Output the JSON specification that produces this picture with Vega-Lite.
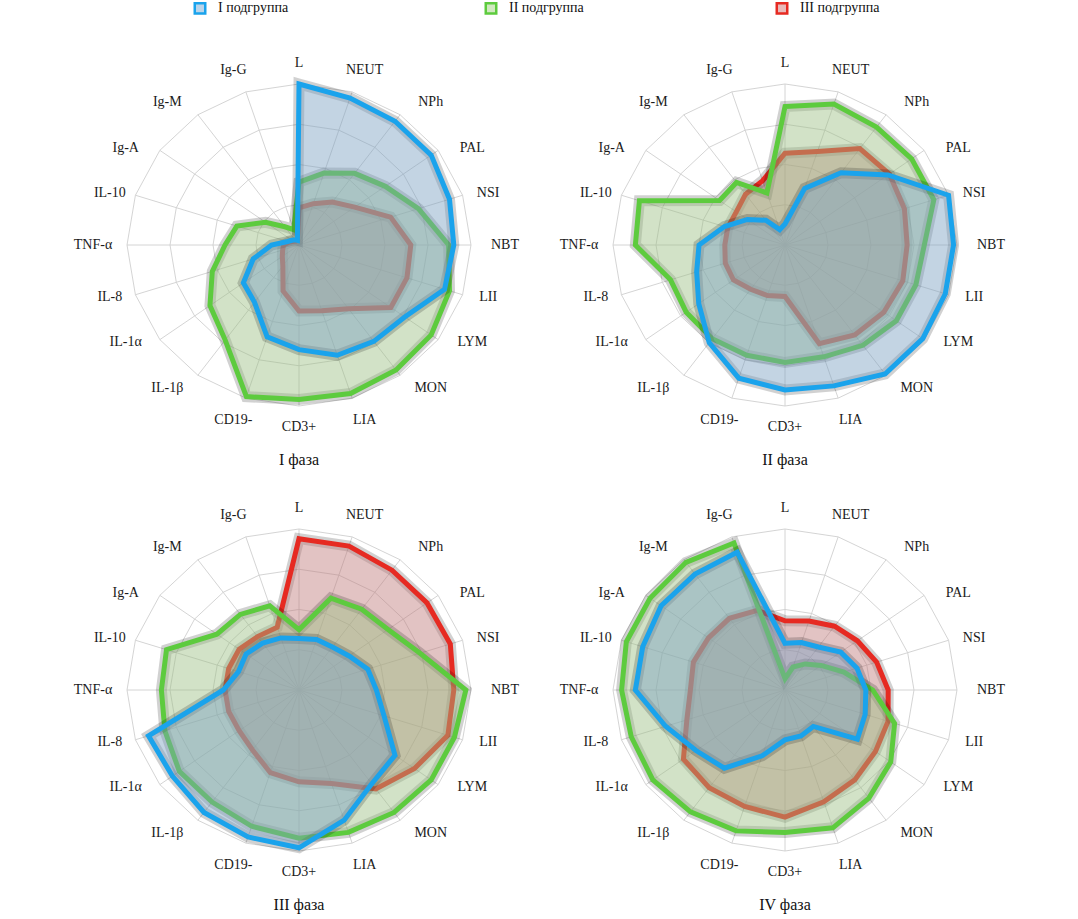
{
  "$schema": "https://vega.github.io/schema/vega-lite/v6.json",
  "padding": {"left": 56, "top": 1, "right": 5, "bottom": 5},
  "config": {"view": {"stroke": null}, "font": "'Liberation Serif', 'Times New Roman', 'DejaVu Serif', serif"},
  "datasets": {
    "axes": [
      {"a": "L", "i": 0, "r1": 0.25, "r2": 0.5, "r3": 0.75, "r4": 1},
      {"a": "NEUT", "i": 1, "r1": 0.25, "r2": 0.5, "r3": 0.75, "r4": 1},
      {"a": "NPh", "i": 2, "r1": 0.25, "r2": 0.5, "r3": 0.75, "r4": 1},
      {"a": "PAL", "i": 3, "r1": 0.25, "r2": 0.5, "r3": 0.75, "r4": 1},
      {"a": "NSI", "i": 4, "r1": 0.25, "r2": 0.5, "r3": 0.75, "r4": 1},
      {"a": "NBT", "i": 5, "r1": 0.25, "r2": 0.5, "r3": 0.75, "r4": 1},
      {"a": "LII", "i": 6, "r1": 0.25, "r2": 0.5, "r3": 0.75, "r4": 1},
      {"a": "LYM", "i": 7, "r1": 0.25, "r2": 0.5, "r3": 0.75, "r4": 1},
      {"a": "MON", "i": 8, "r1": 0.25, "r2": 0.5, "r3": 0.75, "r4": 1},
      {"a": "LIA", "i": 9, "r1": 0.25, "r2": 0.5, "r3": 0.75, "r4": 1},
      {"a": "CD3+", "i": 10, "r1": 0.25, "r2": 0.5, "r3": 0.75, "r4": 1},
      {"a": "CD19-", "i": 11, "r1": 0.25, "r2": 0.5, "r3": 0.75, "r4": 1},
      {"a": "IL-1β", "i": 12, "r1": 0.25, "r2": 0.5, "r3": 0.75, "r4": 1},
      {"a": "IL-1α", "i": 13, "r1": 0.25, "r2": 0.5, "r3": 0.75, "r4": 1},
      {"a": "IL-8", "i": 14, "r1": 0.25, "r2": 0.5, "r3": 0.75, "r4": 1},
      {"a": "TNF-α", "i": 15, "r1": 0.25, "r2": 0.5, "r3": 0.75, "r4": 1},
      {"a": "IL-10", "i": 16, "r1": 0.25, "r2": 0.5, "r3": 0.75, "r4": 1},
      {"a": "Ig-A", "i": 17, "r1": 0.25, "r2": 0.5, "r3": 0.75, "r4": 1},
      {"a": "Ig-M", "i": 18, "r1": 0.25, "r2": 0.5, "r3": 0.75, "r4": 1},
      {"a": "Ig-G", "i": 19, "r1": 0.25, "r2": 0.5, "r3": 0.75, "r4": 1}
    ]
  },
  "data": {"values": [
    {"p":"I фаза","s":"I подгруппа","a":"L","v":1.0},
    {"p":"I фаза","s":"I подгруппа","a":"NEUT","v":0.96},
    {"p":"I фаза","s":"I подгруппа","a":"NPh","v":0.95},
    {"p":"I фаза","s":"I подгруппа","a":"PAL","v":0.95},
    {"p":"I фаза","s":"I подгруппа","a":"NSI","v":0.92},
    {"p":"I фаза","s":"I подгруппа","a":"NBT","v":0.90},
    {"p":"I фаза","s":"I подгруппа","a":"LII","v":0.89},
    {"p":"I фаза","s":"I подгруппа","a":"LYM","v":0.76},
    {"p":"I фаза","s":"I подгруппа","a":"MON","v":0.74},
    {"p":"I фаза","s":"I подгруппа","a":"LIA","v":0.72},
    {"p":"I фаза","s":"I подгруппа","a":"CD3+","v":0.65},
    {"p":"I фаза","s":"I подгруппа","a":"CD19-","v":0.60},
    {"p":"I фаза","s":"I подгруппа","a":"IL-1β","v":0.44},
    {"p":"I фаза","s":"I подгруппа","a":"IL-1α","v":0.40},
    {"p":"I фаза","s":"I подгруппа","a":"IL-8","v":0.28},
    {"p":"I фаза","s":"I подгруппа","a":"TNF-α","v":0.16},
    {"p":"I фаза","s":"I подгруппа","a":"IL-10","v":0.07},
    {"p":"I фаза","s":"I подгруппа","a":"Ig-A","v":0.05},
    {"p":"I фаза","s":"I подгруппа","a":"Ig-M","v":0.04},
    {"p":"I фаза","s":"I подгруппа","a":"Ig-G","v":0.03},
    {"p":"I фаза","s":"II подгруппа","a":"L","v":0.39},
    {"p":"I фаза","s":"II подгруппа","a":"NEUT","v":0.47},
    {"p":"I фаза","s":"II подгруппа","a":"NPh","v":0.55},
    {"p":"I фаза","s":"II подгруппа","a":"PAL","v":0.62},
    {"p":"I фаза","s":"II подгруппа","a":"NSI","v":0.73},
    {"p":"I фаза","s":"II подгруппа","a":"NBT","v":0.87},
    {"p":"I фаза","s":"II подгруппа","a":"LII","v":0.92},
    {"p":"I фаза","s":"II подгруппа","a":"LYM","v":0.95},
    {"p":"I фаза","s":"II подгруппа","a":"MON","v":0.96},
    {"p":"I фаза","s":"II подгруппа","a":"LIA","v":0.97},
    {"p":"I фаза","s":"II подгруппа","a":"CD3+","v":0.96},
    {"p":"I фаза","s":"II подгруппа","a":"CD19-","v":0.99},
    {"p":"I фаза","s":"II подгруппа","a":"IL-1β","v":0.73},
    {"p":"I фаза","s":"II подгруппа","a":"IL-1α","v":0.64},
    {"p":"I фаза","s":"II подгруппа","a":"IL-8","v":0.53},
    {"p":"I фаза","s":"II подгруппа","a":"TNF-α","v":0.43},
    {"p":"I фаза","s":"II подгруппа","a":"IL-10","v":0.38},
    {"p":"I фаза","s":"II подгруппа","a":"Ig-A","v":0.24},
    {"p":"I фаза","s":"II подгруппа","a":"Ig-M","v":0.14},
    {"p":"I фаза","s":"II подгруппа","a":"Ig-G","v":0.10},
    {"p":"I фаза","s":"III подгруппа","a":"L","v":0.23},
    {"p":"I фаза","s":"III подгруппа","a":"NEUT","v":0.27},
    {"p":"I фаза","s":"III подгруппа","a":"NPh","v":0.33},
    {"p":"I фаза","s":"III подгруппа","a":"PAL","v":0.40},
    {"p":"I фаза","s":"III подгруппа","a":"NSI","v":0.56},
    {"p":"I фаза","s":"III подгруппа","a":"NBT","v":0.65},
    {"p":"I фаза","s":"III подгруппа","a":"LII","v":0.66},
    {"p":"I фаза","s":"III подгруппа","a":"LYM","v":0.66},
    {"p":"I фаза","s":"III подгруппа","a":"MON","v":0.49},
    {"p":"I фаза","s":"III подгруппа","a":"LIA","v":0.43},
    {"p":"I фаза","s":"III подгруппа","a":"CD3+","v":0.41},
    {"p":"I фаза","s":"III подгруппа","a":"CD19-","v":0.30},
    {"p":"I фаза","s":"III подгруппа","a":"IL-1β","v":0.16},
    {"p":"I фаза","s":"III подгруппа","a":"IL-1α","v":0.12},
    {"p":"I фаза","s":"III подгруппа","a":"IL-8","v":0.10},
    {"p":"I фаза","s":"III подгруппа","a":"TNF-α","v":0.09},
    {"p":"I фаза","s":"III подгруппа","a":"IL-10","v":0.06},
    {"p":"I фаза","s":"III подгруппа","a":"Ig-A","v":0.04},
    {"p":"I фаза","s":"III подгруппа","a":"Ig-M","v":0.03},
    {"p":"I фаза","s":"III подгруппа","a":"Ig-G","v":0.03},
    {"p":"II фаза","s":"I подгруппа","a":"L","v":0.13},
    {"p":"II фаза","s":"I подгруппа","a":"NEUT","v":0.37},
    {"p":"II фаза","s":"I подгруппа","a":"NPh","v":0.555},
    {"p":"II фаза","s":"I подгруппа","a":"PAL","v":0.74},
    {"p":"II фаза","s":"I подгруппа","a":"NSI","v":1.0},
    {"p":"II фаза","s":"I подгруппа","a":"NBT","v":0.98},
    {"p":"II фаза","s":"I подгруппа","a":"LII","v":0.98},
    {"p":"II фаза","s":"I подгруппа","a":"LYM","v":0.99},
    {"p":"II фаза","s":"I подгруппа","a":"MON","v":0.99},
    {"p":"II фаза","s":"I подгруппа","a":"LIA","v":0.92},
    {"p":"II фаза","s":"I подгруппа","a":"CD3+","v":0.90},
    {"p":"II фаза","s":"I подгруппа","a":"CD19-","v":0.87},
    {"p":"II фаза","s":"I подгруппа","a":"IL-1β","v":0.75},
    {"p":"II фаза","s":"I подгруппа","a":"IL-1α","v":0.62},
    {"p":"II фаза","s":"I подгруппа","a":"IL-8","v":0.54},
    {"p":"II фаза","s":"I подгруппа","a":"TNF-α","v":0.50},
    {"p":"II фаза","s":"I подгруппа","a":"IL-10","v":0.37},
    {"p":"II фаза","s":"I подгруппа","a":"Ig-A","v":0.27},
    {"p":"II фаза","s":"I подгруппа","a":"Ig-M","v":0.19},
    {"p":"II фаза","s":"I подгруппа","a":"Ig-G","v":0.10},
    {"p":"II фаза","s":"II подгруппа","a":"L","v":0.86},
    {"p":"II фаза","s":"II подгруппа","a":"NEUT","v":0.92},
    {"p":"II фаза","s":"II подгруппа","a":"NPh","v":0.905},
    {"p":"II фаза","s":"II подгруппа","a":"PAL","v":0.91},
    {"p":"II фаза","s":"II подгруппа","a":"NSI","v":0.91},
    {"p":"II фаза","s":"II подгруппа","a":"NBT","v":0.81},
    {"p":"II фаза","s":"II подгруппа","a":"LII","v":0.80},
    {"p":"II фаза","s":"II подгруппа","a":"LYM","v":0.80},
    {"p":"II фаза","s":"II подгруппа","a":"MON","v":0.77},
    {"p":"II фаза","s":"II подгруппа","a":"LIA","v":0.73},
    {"p":"II фаза","s":"II подгруппа","a":"CD3+","v":0.73},
    {"p":"II фаза","s":"II подгруппа","a":"CD19-","v":0.72},
    {"p":"II фаза","s":"II подгруппа","a":"IL-1β","v":0.72},
    {"p":"II фаза","s":"II подгруппа","a":"IL-1α","v":0.71},
    {"p":"II фаза","s":"II подгруппа","a":"IL-8","v":0.70},
    {"p":"II фаза","s":"II подгруппа","a":"TNF-α","v":0.87},
    {"p":"II фаза","s":"II подгруппа","a":"IL-10","v":0.89},
    {"p":"II фаза","s":"II подгруппа","a":"Ig-A","v":0.47},
    {"p":"II фаза","s":"II подгруппа","a":"Ig-M","v":0.48},
    {"p":"II фаза","s":"II подгруппа","a":"Ig-G","v":0.34},
    {"p":"II фаза","s":"III подгруппа","a":"L","v":0.57},
    {"p":"II фаза","s":"III подгруппа","a":"NEUT","v":0.61},
    {"p":"II фаза","s":"III подгруппа","a":"NPh","v":0.74},
    {"p":"II фаза","s":"III подгруппа","a":"PAL","v":0.75},
    {"p":"II фаза","s":"III подгруппа","a":"NSI","v":0.73},
    {"p":"II фаза","s":"III подгруппа","a":"NBT","v":0.71},
    {"p":"II фаза","s":"III подгруппа","a":"LII","v":0.72},
    {"p":"II фаза","s":"III подгруппа","a":"LYM","v":0.71},
    {"p":"II фаза","s":"III подгруппа","a":"MON","v":0.69},
    {"p":"II фаза","s":"III подгруппа","a":"LIA","v":0.645},
    {"p":"II фаза","s":"III подгруппа","a":"CD3+","v":0.32},
    {"p":"II фаза","s":"III подгруппа","a":"CD19-","v":0.33},
    {"p":"II фаза","s":"III подгруппа","a":"IL-1β","v":0.34},
    {"p":"II фаза","s":"III подгруппа","a":"IL-1α","v":0.37},
    {"p":"II фаза","s":"III подгруппа","a":"IL-8","v":0.365},
    {"p":"II фаза","s":"III подгруппа","a":"TNF-α","v":0.35},
    {"p":"II фаза","s":"III подгруппа","a":"IL-10","v":0.35},
    {"p":"II фаза","s":"III подгруппа","a":"Ig-A","v":0.35},
    {"p":"II фаза","s":"III подгруппа","a":"Ig-M","v":0.39},
    {"p":"II фаза","s":"III подгруппа","a":"Ig-G","v":0.42},
    {"p":"III фаза","s":"I подгруппа","a":"L","v":0.32},
    {"p":"III фаза","s":"I подгруппа","a":"NEUT","v":0.33},
    {"p":"III фаза","s":"I подгруппа","a":"NPh","v":0.33},
    {"p":"III фаза","s":"I подгруппа","a":"PAL","v":0.36},
    {"p":"III фаза","s":"I подгруппа","a":"NSI","v":0.42},
    {"p":"III фаза","s":"I подгруппа","a":"NBT","v":0.45},
    {"p":"III фаза","s":"I подгруппа","a":"LII","v":0.52},
    {"p":"III фаза","s":"I подгруппа","a":"LYM","v":0.69},
    {"p":"III фаза","s":"I подгруппа","a":"MON","v":0.72},
    {"p":"III фаза","s":"I подгруппа","a":"LIA","v":0.85},
    {"p":"III фаза","s":"I подгруппа","a":"CD3+","v":0.98},
    {"p":"III фаза","s":"I подгруппа","a":"CD19-","v":0.96},
    {"p":"III фаза","s":"I подгруппа","a":"IL-1β","v":0.94},
    {"p":"III фаза","s":"I подгруппа","a":"IL-1α","v":0.91},
    {"p":"III фаза","s":"I подгруппа","a":"IL-8","v":0.92},
    {"p":"III фаза","s":"I подгруппа","a":"TNF-α","v":0.44},
    {"p":"III фаза","s":"I подгруппа","a":"IL-10","v":0.37},
    {"p":"III фаза","s":"I подгруппа","a":"Ig-A","v":0.38},
    {"p":"III фаза","s":"I подгруппа","a":"Ig-M","v":0.36},
    {"p":"III фаза","s":"I подгруппа","a":"Ig-G","v":0.34},
    {"p":"III фаза","s":"II подгруппа","a":"L","v":0.375},
    {"p":"III фаза","s":"II подгруппа","a":"NEUT","v":0.60},
    {"p":"III фаза","s":"II подгруппа","a":"NPh","v":0.62},
    {"p":"III фаза","s":"II подгруппа","a":"PAL","v":0.64},
    {"p":"III фаза","s":"II подгруппа","a":"NSI","v":0.74},
    {"p":"III фаза","s":"II подгруппа","a":"NBT","v":0.97},
    {"p":"III фаза","s":"II подгруппа","a":"LII","v":0.95},
    {"p":"III фаза","s":"II подгруппа","a":"LYM","v":0.95},
    {"p":"III фаза","s":"II подгруппа","a":"MON","v":0.94},
    {"p":"III фаза","s":"II подгруппа","a":"LIA","v":0.93},
    {"p":"III фаза","s":"II подгруппа","a":"CD3+","v":0.92},
    {"p":"III фаза","s":"II подгруппа","a":"CD19-","v":0.89},
    {"p":"III фаза","s":"II подгруппа","a":"IL-1β","v":0.86},
    {"p":"III фаза","s":"II подгруппа","a":"IL-1α","v":0.86},
    {"p":"III фаза","s":"II подгруппа","a":"IL-8","v":0.82},
    {"p":"III фаза","s":"II подгруппа","a":"TNF-α","v":0.80},
    {"p":"III фаза","s":"II подгруппа","a":"IL-10","v":0.81},
    {"p":"III фаза","s":"II подгруппа","a":"Ig-A","v":0.59},
    {"p":"III фаза","s":"II подгруппа","a":"Ig-M","v":0.58},
    {"p":"III фаза","s":"II подгруппа","a":"Ig-G","v":0.55},
    {"p":"III фаза","s":"III подгруппа","a":"L","v":0.94},
    {"p":"III фаза","s":"III подгруппа","a":"NEUT","v":0.94},
    {"p":"III фаза","s":"III подгруппа","a":"NPh","v":0.92},
    {"p":"III фаза","s":"III подгруппа","a":"PAL","v":0.92},
    {"p":"III фаза","s":"III подгруппа","a":"NSI","v":0.925},
    {"p":"III фаза","s":"III подгруппа","a":"NBT","v":0.90},
    {"p":"III фаза","s":"III подгруппа","a":"LII","v":0.91},
    {"p":"III фаза","s":"III подгруппа","a":"LYM","v":0.83},
    {"p":"III фаза","s":"III подгруппа","a":"MON","v":0.76},
    {"p":"III фаза","s":"III подгруппа","a":"LIA","v":0.61},
    {"p":"III фаза","s":"III подгруппа","a":"CD3+","v":0.57},
    {"p":"III фаза","s":"III подгруппа","a":"CD19-","v":0.54},
    {"p":"III фаза","s":"III подгруппа","a":"IL-1β","v":0.46},
    {"p":"III фаза","s":"III подгруппа","a":"IL-1α","v":0.43},
    {"p":"III фаза","s":"III подгруппа","a":"IL-8","v":0.43},
    {"p":"III фаза","s":"III подгруппа","a":"TNF-α","v":0.43},
    {"p":"III фаза","s":"III подгруппа","a":"IL-10","v":0.43},
    {"p":"III фаза","s":"III подгруппа","a":"Ig-A","v":0.43},
    {"p":"III фаза","s":"III подгруппа","a":"Ig-M","v":0.41},
    {"p":"III фаза","s":"III подгруппа","a":"Ig-G","v":0.41},
    {"p":"IV фаза","s":"I подгруппа","a":"L","v":0.29},
    {"p":"IV фаза","s":"I подгруппа","a":"NEUT","v":0.31},
    {"p":"IV фаза","s":"I подгруппа","a":"NPh","v":0.33},
    {"p":"IV фаза","s":"I подгруппа","a":"PAL","v":0.40},
    {"p":"IV фаза","s":"I подгруппа","a":"NSI","v":0.44},
    {"p":"IV фаза","s":"I подгруппа","a":"NBT","v":0.47},
    {"p":"IV фаза","s":"I подгруппа","a":"LII","v":0.49},
    {"p":"IV фаза","s":"I подгруппа","a":"LYM","v":0.52},
    {"p":"IV фаза","s":"I подгруппа","a":"MON","v":0.28},
    {"p":"IV фаза","s":"I подгруппа","a":"LIA","v":0.30},
    {"p":"IV фаза","s":"I подгруппа","a":"CD3+","v":0.31},
    {"p":"IV фаза","s":"I подгруппа","a":"CD19-","v":0.43},
    {"p":"IV фаза","s":"I подгруппа","a":"IL-1β","v":0.60},
    {"p":"IV фаза","s":"I подгруппа","a":"IL-1α","v":0.64},
    {"p":"IV фаза","s":"I подгруппа","a":"IL-8","v":0.73},
    {"p":"IV фаза","s":"I подгруппа","a":"TNF-α","v":0.87},
    {"p":"IV фаза","s":"I подгруппа","a":"IL-10","v":0.87},
    {"p":"IV фаза","s":"I подгруппа","a":"Ig-A","v":0.89},
    {"p":"IV фаза","s":"I подгруппа","a":"Ig-M","v":0.89},
    {"p":"IV фаза","s":"I подгруппа","a":"Ig-G","v":0.90},
    {"p":"IV фаза","s":"II подгруппа","a":"L","v":0.07},
    {"p":"IV фаза","s":"II подгруппа","a":"NEUT","v":0.15},
    {"p":"IV фаза","s":"II подгруппа","a":"NPh","v":0.20},
    {"p":"IV фаза","s":"II подгруппа","a":"PAL","v":0.26},
    {"p":"IV фаза","s":"II подгруппа","a":"NSI","v":0.36},
    {"p":"IV фаза","s":"II подгруппа","a":"NBT","v":0.51},
    {"p":"IV фаза","s":"II подгруппа","a":"LII","v":0.67},
    {"p":"IV фаза","s":"II подгруппа","a":"LYM","v":0.76},
    {"p":"IV фаза","s":"II подгруппа","a":"MON","v":0.83},
    {"p":"IV фаза","s":"II подгруппа","a":"LIA","v":0.90},
    {"p":"IV фаза","s":"II подгруппа","a":"CD3+","v":0.885},
    {"p":"IV фаза","s":"II подгруппа","a":"CD19-","v":0.92},
    {"p":"IV фаза","s":"II подгруппа","a":"IL-1β","v":0.935},
    {"p":"IV фаза","s":"II подгруппа","a":"IL-1α","v":0.95},
    {"p":"IV фаза","s":"II подгруппа","a":"IL-8","v":0.94},
    {"p":"IV фаза","s":"II подгруппа","a":"TNF-α","v":0.95},
    {"p":"IV фаза","s":"II подгруппа","a":"IL-10","v":0.97},
    {"p":"IV фаза","s":"II подгруппа","a":"Ig-A","v":0.97},
    {"p":"IV фаза","s":"II подгруппа","a":"Ig-M","v":0.98},
    {"p":"IV фаза","s":"II подгруппа","a":"Ig-G","v":0.96},
    {"p":"IV фаза","s":"III подгруппа","a":"L","v":0.43},
    {"p":"IV фаза","s":"III подгруппа","a":"NEUT","v":0.45},
    {"p":"IV фаза","s":"III подгруппа","a":"NPh","v":0.49},
    {"p":"IV фаза","s":"III подгруппа","a":"PAL","v":0.52},
    {"p":"IV фаза","s":"III подгруппа","a":"NSI","v":0.56},
    {"p":"IV фаза","s":"III подгруппа","a":"NBT","v":0.60},
    {"p":"IV фаза","s":"III подгруппа","a":"LII","v":0.63},
    {"p":"IV фаза","s":"III подгруппа","a":"LYM","v":0.65},
    {"p":"IV фаза","s":"III подгруппа","a":"MON","v":0.69},
    {"p":"IV фаза","s":"III подгруппа","a":"LIA","v":0.73},
    {"p":"IV фаза","s":"III подгруппа","a":"CD3+","v":0.79},
    {"p":"IV фаза","s":"III подгруппа","a":"CD19-","v":0.76},
    {"p":"IV фаза","s":"III подгруппа","a":"IL-1β","v":0.75},
    {"p":"IV фаза","s":"III подгруппа","a":"IL-1α","v":0.73},
    {"p":"IV фаза","s":"III подгруппа","a":"IL-8","v":0.60},
    {"p":"IV фаза","s":"III подгруппа","a":"TNF-α","v":0.55},
    {"p":"IV фаза","s":"III подгруппа","a":"IL-10","v":0.56},
    {"p":"IV фаза","s":"III подгруппа","a":"Ig-A","v":0.55},
    {"p":"IV фаза","s":"III подгруппа","a":"Ig-M","v":0.55},
    {"p":"IV фаза","s":"III подгруппа","a":"Ig-G","v":0.52}
  ]},
  "transform": [
    {"lookup": "a", "from": {"data": {"name": "axes"}, "key": "a", "fields": ["i", "r1", "r2", "r3", "r4"]}},
    {"calculate": "datum.i*PI/10", "as": "t"},
    {"calculate": "datum.v*sin(datum.t)", "as": "x"},
    {"calculate": "datum.v*cos(datum.t)", "as": "y"},
    {"calculate": "sin(datum.t)", "as": "ux"},
    {"calculate": "cos(datum.t)", "as": "uy"},
    {"calculate": "datum.t+0.13*sin(2*datum.t)*abs(sin(2*datum.t))", "as": "phi"},
    {"calculate": "182+24*abs(sin(datum.t))-10*pow(sin(4*datum.t),2)*abs(sin(datum.t))", "as": "rho"},
    {"calculate": "datum.rho*sin(datum.phi)/172", "as": "lx"},
    {"calculate": "datum.rho*cos(datum.phi)/161", "as": "ly"}
  ],
  "facet": {
    "field": "p", "type": "nominal", "title": null,
    "sort": ["I фаза", "II фаза", "III фаза", "IV фаза"],
    "header": {"title": null, "labelOrient": "bottom", "labelFont": "'Liberation Serif', 'Times New Roman', serif", "labelFontSize": 16, "labelColor": "#111111", "labelPadding": 7}
  },
  "columns": 2,
  "spacing": {"row": 22, "column": 0},
  "spec": {
    "width": 486,
    "height": 400,
    "layer": [
      {
        "transform": [
          {"filter": "datum.s === 'I подгруппа'"},
          {"fold": ["r1", "r2", "r3", "r4"], "as": ["ring", "lev"]},
          {"calculate": "datum.lev*datum.ux", "as": "gx"},
          {"calculate": "datum.lev*datum.uy", "as": "gy"}
        ],
        "mark": {"type": "line", "interpolate": "linear-closed", "stroke": "#cfcfcf", "strokeWidth": 0.9},
        "encoding": {
          "x": {"field": "gx", "type": "quantitative", "scale": {"domain": [-1.4128, 1.4128], "nice": false, "zero": false}, "axis": null},
          "y": {"field": "gy", "type": "quantitative", "scale": {"domain": [-1.2422, 1.2422], "nice": false, "zero": false}, "axis": null},
          "detail": {"field": "ring", "type": "nominal"},
          "order": {"field": "i", "type": "quantitative"}
        }
      },
      {
        "transform": [{"filter": "datum.s === 'I подгруппа'"}],
        "mark": {"type": "rule", "stroke": "#cfcfcf", "strokeWidth": 0.9},
        "encoding": {
          "x": {"field": "ux", "type": "quantitative"},
          "y": {"field": "uy", "type": "quantitative"},
          "x2": {"datum": 0},
          "y2": {"datum": 0}
        }
      },
      {
        "transform": [{"filter": "datum.s === 'I подгруппа'"}],
        "mark": {"type": "text", "font": "'Liberation Serif', 'Times New Roman', serif", "fontSize": 14, "color": "#1a1a1a", "align": "center", "baseline": "middle"},
        "encoding": {
          "x": {"field": "lx", "type": "quantitative"},
          "y": {"field": "ly", "type": "quantitative"},
          "text": {"field": "a", "type": "nominal"}
        }
      },
      {
        "transform": [{"filter": "datum.s === 'III подгруппа'"}],
        "mark": {"type": "line", "interpolate": "linear-closed", "stroke": "#000000", "strokeOpacity": 0.18, "strokeWidth": 11, "fill": "#000000", "fillOpacity": 0.09},
        "encoding": {
          "x": {"field": "x", "type": "quantitative"},
          "y": {"field": "y", "type": "quantitative"},
          "order": {"field": "i", "type": "quantitative"}
        }
      },
      {
        "transform": [{"filter": "datum.s === 'III подгруппа'"}],
        "mark": {"type": "line", "interpolate": "linear-closed", "strokeWidth": 5, "strokeJoin": "miter", "fillOpacity": 0.4},
        "encoding": {
          "x": {"field": "x", "type": "quantitative"},
          "y": {"field": "y", "type": "quantitative"},
          "order": {"field": "i", "type": "quantitative"},
          "stroke": {"field": "s", "type": "nominal", "scale": {"domain": ["I подгруппа", "II подгруппа", "III подгруппа"], "range": ["#1aa3ec", "#5dcb3e", "#e62a22"]},
            "legend": {"title": null, "orient": "none", "legendX": 137, "legendY": -44, "direction": "horizontal", "symbolType": "square", "symbolSize": 110, "symbolStrokeWidth": 2.5, "labelFont": "'Liberation Serif', 'Times New Roman', serif", "labelFontSize": 14, "labelColor": "#111111", "labelOffset": 11, "columnPadding": 182, "gridAlign": "all", "encode": {"symbols": {"update": {"fillOpacity": {"value": 0.6}}}}}},
          "fill": {"field": "s", "type": "nominal", "scale": {"domain": ["I подгруппа", "II подгруппа", "III подгруппа"], "range": ["#8cb7dc", "#b2da96", "#da8c8c"]},
            "legend": {"title": null, "orient": "none", "legendX": 137, "legendY": -44, "direction": "horizontal", "symbolType": "square", "symbolSize": 110, "symbolStrokeWidth": 2.5, "labelFont": "'Liberation Serif', 'Times New Roman', serif", "labelFontSize": 14, "labelColor": "#111111", "labelOffset": 11, "columnPadding": 182, "gridAlign": "all", "encode": {"symbols": {"update": {"fillOpacity": {"value": 0.6}}}}}}
        }
      },
      {
        "transform": [{"filter": "datum.s === 'II подгруппа'"}],
        "mark": {"type": "line", "interpolate": "linear-closed", "stroke": "#000000", "strokeOpacity": 0.18, "strokeWidth": 11, "fill": "#000000", "fillOpacity": 0.09},
        "encoding": {
          "x": {"field": "x", "type": "quantitative"},
          "y": {"field": "y", "type": "quantitative"},
          "order": {"field": "i", "type": "quantitative"}
        }
      },
      {
        "transform": [{"filter": "datum.s === 'II подгруппа'"}],
        "mark": {"type": "line", "interpolate": "linear-closed", "strokeWidth": 5, "strokeJoin": "miter", "fillOpacity": 0.4},
        "encoding": {
          "x": {"field": "x", "type": "quantitative"},
          "y": {"field": "y", "type": "quantitative"},
          "order": {"field": "i", "type": "quantitative"},
          "stroke": {"field": "s", "type": "nominal"},
          "fill": {"field": "s", "type": "nominal"}
        }
      },
      {
        "transform": [{"filter": "datum.s === 'I подгруппа'"}],
        "mark": {"type": "line", "interpolate": "linear-closed", "stroke": "#000000", "strokeOpacity": 0.18, "strokeWidth": 11, "fill": "#000000", "fillOpacity": 0.09},
        "encoding": {
          "x": {"field": "x", "type": "quantitative"},
          "y": {"field": "y", "type": "quantitative"},
          "order": {"field": "i", "type": "quantitative"}
        }
      },
      {
        "transform": [{"filter": "datum.s === 'I подгруппа'"}],
        "mark": {"type": "line", "interpolate": "linear-closed", "strokeWidth": 5, "strokeJoin": "miter", "fillOpacity": 0.4},
        "encoding": {
          "x": {"field": "x", "type": "quantitative"},
          "y": {"field": "y", "type": "quantitative"},
          "order": {"field": "i", "type": "quantitative"},
          "stroke": {"field": "s", "type": "nominal"},
          "fill": {"field": "s", "type": "nominal"}
        }
      }
    ]
  }
}
